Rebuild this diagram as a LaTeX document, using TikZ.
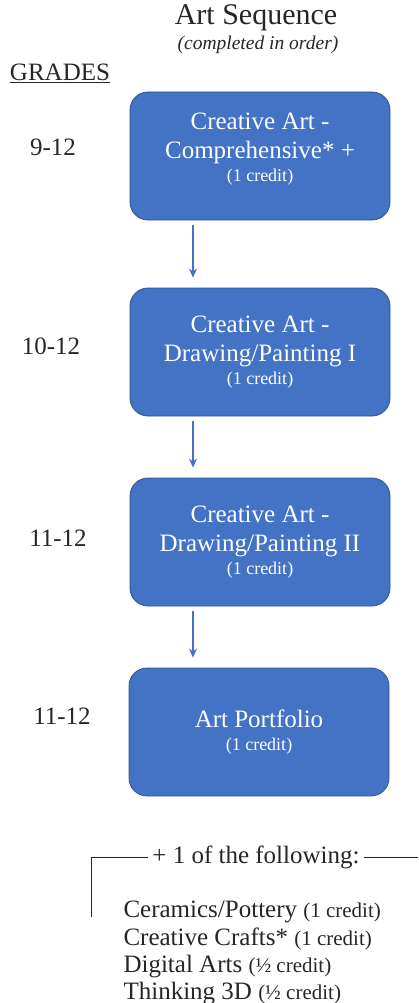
\documentclass[tikz,border=0pt]{standalone}
\usepackage{fontspec}
\setmainfont{Liberation Serif}
\usepackage{xcolor}
\usetikzlibrary{arrows.meta}
\definecolor{artblue}{HTML}{4472C4}
\definecolor{artedge}{HTML}{2F528F}
\definecolor{ink}{HTML}{262626}
\newcommand{\cred}[2][18]{{\fontsize{#1}{#1}\selectfont #2}}

\begin{document}
\begin{tikzpicture}[x=1pt,y=-1pt,
	artbox/.style={draw=artedge,fill=artblue,line width=0.8pt,rounded corners=18pt,
		minimum width=260pt,minimum height=128pt,text=white,align=center,
		font=\fontsize{25}{29}\selectfont},
	grade/.style={text=ink,font=\fontsize{25}{29}\selectfont},
	flow/.style={draw=artblue,line width=1.3pt,-{Stealth[length=9pt,width=8pt]}}]
\useasboundingbox (0,0) rectangle (418,1003);
% heading
\node[text=ink,font=\fontsize{30}{34}\selectfont] (title) at (256,18) {Art Sequence};
\node[text=ink,font=\fontsize{19.5}{22}\selectfont\itshape] (sub) at (258,45) {(completed in order)};
\node[grade] (grades) at (60,73) {\underline{GRADES}};
% course boxes
\node[artbox] (comp) at (260,156) {Creative Art -\\Comprehensive* +\\[-6pt]\cred{(1 credit)}\rule[-18pt]{0pt}{0pt}};
\node[artbox] (drawi) at (260,352) {Creative Art -\\Drawing/Painting I\\[-6pt]\cred{(1 credit)}};
\node[artbox] (drawii) at (260,542) {Creative Art -\\Drawing/Painting II\\[-6pt]\cred{(1 credit)}};
\node[artbox] (port) at (259,732) {Art Portfolio\\[-6pt]\cred{(1 credit)}};
\coordinate (ax) at (193,0);
\foreach\a/\b in {comp/drawi,drawi/drawii,drawii/port}{
	\draw[flow] ([yshift=-5pt]\a.south -| ax) -- ([yshift=10pt]\b.north -| ax);
}
% grade levels
\node[grade] (g1) at (53,147) {9-12};
\node[grade] (g2) at (51,346) {10-12};
\node[grade] (g3) at (58,538) {11-12};
\node[grade] (g4) at (62,716) {11-12};
% electives
\node[grade,inner xsep=4pt] (follow) at (256,857) {+ 1 of the following:};
\draw[ink,line width=1pt] (91,917) -- (91,857) -- (follow.west);
\draw[ink,line width=1pt] (follow.east) -- (418,857);
\node[grade,anchor=base west] (el1) at (120,917) {Ceramics/Pottery \cred[21]{(1 credit)}};
\node[grade,anchor=base west] (el2) at (120,945) {Creative Crafts* \cred[21]{(1 credit)}};
\node[grade,anchor=base west] (el3) at (120,972) {Digital Arts \cred[21]{(½ credit)}};
\node[grade,anchor=base west] (el4) at (120,999) {Thinking 3D \cred[21]{(½ credit)}};
\end{tikzpicture}
\end{document}
